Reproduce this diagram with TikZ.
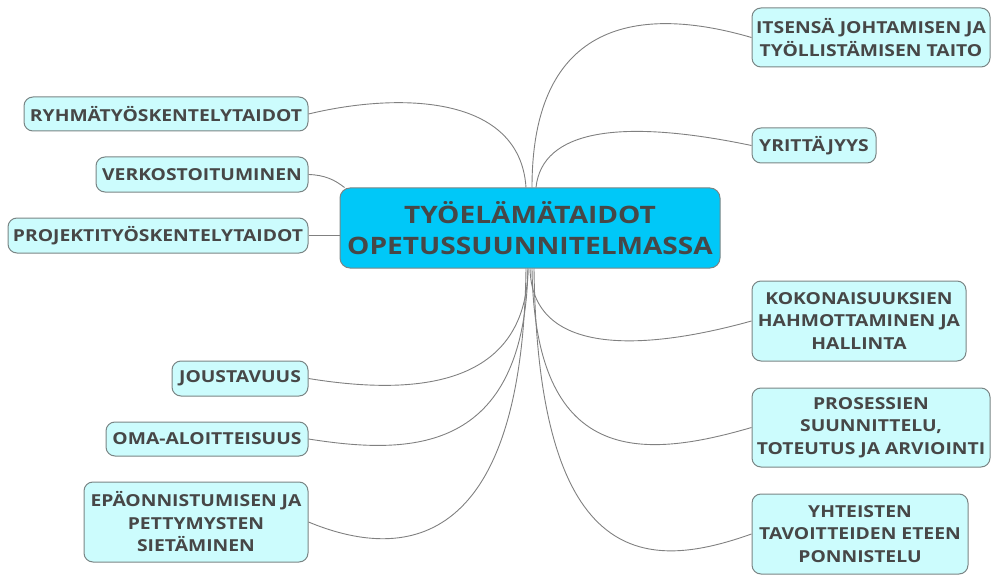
\documentclass[tikz,border=0pt]{standalone}
\usepackage{fontspec}
\setmainfont{Open Sans}[FakeStretch=1.17]
\definecolor{txt}{HTML}{474747}
\definecolor{leaf}{HTML}{CCFCFD}
\definecolor{leafdraw}{HTML}{7A8585}
\definecolor{hub}{HTML}{00C8F8}
\definecolor{conn}{HTML}{808080}
\tikzset{
  leafbox/.style={draw=leafdraw, fill=leaf, line width=1pt, rounded corners=9pt,
    text=txt, font=\bfseries\fontsize{16.5}{22.5}\selectfont, align=center, inner sep=0pt},
  hubbox/.style={draw=leafdraw, fill=hub, line width=1pt, rounded corners=10pt,
    text=txt, font=\bfseries\fontsize{24}{31}\selectfont, align=center, inner sep=0pt},
  link/.style={draw=conn, line width=0.9pt}
}
\begin{document}
\begin{tikzpicture}[x=1pt,y=-1pt]
\useasboundingbox (0,0) rectangle (991,575);
\node[hubbox, minimum width=380, minimum height=80] (c) at (530,228) {TYÖELÄMÄTAIDOT\\OPETUSSUUNNITELMASSA};
\node[leafbox, minimum width=238, minimum height=59] (its) at (871,37.5) {ITSENSÄ JOHTAMISEN JA\\TYÖLLISTÄMISEN TAITO};
\node[leafbox, minimum width=124, minimum height=35] (yri) at (814,145.5) {YRITTÄJYYS};
\node[leafbox, minimum width=214, minimum height=80] (kok) at (859,321) {KOKONAISUUKSIEN\\HAHMOTTAMINEN JA\\HALLINTA};
\node[leafbox, minimum width=238, minimum height=79] (pro) at (871,427.5) {PROSESSIEN\\SUUNNITTELU,\\TOTEUTUS JA ARVIOINTI};
\node[leafbox, minimum width=216, minimum height=80] (yht) at (860,534) {YHTEISTEN\\TAVOITTEIDEN ETEEN\\PONNISTELU};
\node[leafbox, minimum width=284, minimum height=34] (ryh) at (166,114) {RYHMÄTYÖSKENTELYTAIDOT};
\node[leafbox, minimum width=212, minimum height=35] (ver) at (202,174.5) {VERKOSTOITUMINEN};
\node[leafbox, minimum width=300, minimum height=35] (prj) at (158,235.5) {PROJEKTITYÖSKENTELYTAIDOT};
\node[leafbox, minimum width=136, minimum height=35] (jou) at (240,378.5) {JOUSTAVUUS};
\node[leafbox, minimum width=202, minimum height=34] (oma) at (207,439) {OMA-ALOITTEISUUS};
\node[leafbox, minimum width=224, minimum height=80] (epa) at (196,522) {EPÄONNISTUMISEN JA\\PETTYMYSTEN\\SIETÄMINEN};
\begin{scope}[on background layer/.try]
\draw[link] ([xshift=2pt]c.north) .. controls (532,20) and (640,5) .. (its.west);
\draw[link] ([xshift=6pt]c.north) .. controls (542,130) and (620,118) .. (yri.west);
\draw[link] ([xshift=-4pt]c.north) .. controls (520,95) and (400,92) .. (ryh.east);
\draw[link] (ver.east) .. controls (325,175) and (335,180) .. ([xshift=5pt]c.north west);
\draw[link] (prj.east) -- (c.west |- prj.east);
\draw[link] (c.south) .. controls (532,355) and (640,352) .. (kok.west);
\draw[link] ([xshift=2pt]c.south) .. controls (535,465) and (640,460) .. (pro.west);
\draw[link] ([xshift=4pt]c.south) .. controls (538,575) and (650,570) .. (yht.west);
\draw[link] ([xshift=-2pt]c.south) .. controls (526,390) and (410,395) .. (jou.east);
\draw[link] ([xshift=-2pt]c.south) .. controls (524,455) and (410,455) .. (oma.east);
\draw[link] ([xshift=-4pt]c.south) .. controls (522,555) and (400,560) .. (epa.east);
\end{scope}
\end{tikzpicture}
\end{document}
